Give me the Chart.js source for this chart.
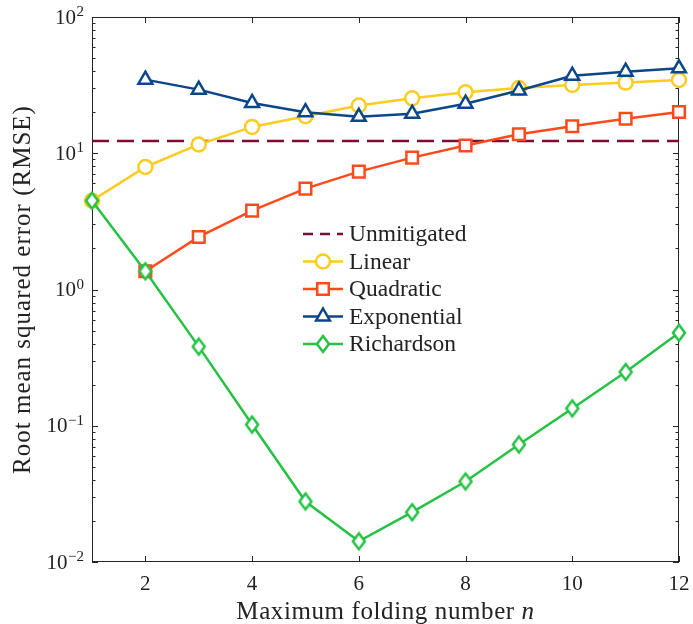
<!DOCTYPE html>
<html>
<head>
<meta charset="utf-8">
<script src="https://cdn.jsdelivr.net/npm/chart.js@4.4.0/dist/chart.umd.min.js"></script>
<style>
  html, body { margin: 0; padding: 0; background: #fff; }
  #wrap { width: 693px; height: 624px; position: relative; }
</style>
</head>
<body>
<div id="wrap"><canvas id="rmseChart"></canvas></div>
<script>
// values
const foldingNumbers = [1, 2, 3, 4, 5, 6, 7, 8, 9, 10, 11, 12];
const unmitigatedX = [1, 12];
const unmitigatedRmse = [12.3, 12.3];
const linearRmse = [4.49, 7.93, 11.6, 15.6, 18.7, 22.4, 25.3, 28.0, 30.1, 31.7, 33.0, 34.5];
const quadraticRmse = [null, 1.36, 2.43, 3.79, 5.50, 7.33, 9.29, 11.4, 13.8, 15.8, 17.9, 20.1];
const exponentialRmse = [null, 34.7, 29.3, 23.4, 20.0, 18.5, 19.5, 23.1, 28.9, 37.1, 39.7, 42.0];
const richardsonRmse = [4.49, 1.36, 0.381, 0.102, 0.0278, 0.0142, 0.0232, 0.039, 0.0728, 0.134, 0.248, 0.481];

const xTicks = [2, 4, 6, 8, 10, 12];
const yDecades = [0.01, 0.1, 1, 10, 100];
const yExponents = ['\u22122', '\u22121', '0', '1', '2'];

const FONT = '"Liberation Serif", "Times New Roman", serif';
const AXIS_COLOR = '#262626';
const colors = {
  unmitigated: '#7D0E32',
  linear: '#FDCB22',
  quadratic: '#FF4A1C',
  exponential: '#0B4689',
  richardson: '#25C244'
};

function diamondMarker(color) {
  const c = document.createElement('canvas');
  c.width = 18;
  c.height = 22;
  const g = c.getContext('2d');
  g.beginPath();
  g.moveTo(9, 3);
  g.lineTo(15, 11);
  g.lineTo(9, 19);
  g.lineTo(3, 11);
  g.closePath();
  g.fillStyle = '#fff';
  g.fill();
  g.lineWidth = 2.5;
  g.strokeStyle = color;
  g.stroke();
  return c;
}
const diamond = diamondMarker(colors.richardson);

function points(xs, ys) {
  return ys.map((v, i) => ({x: xs[i], y: v}));
}

function series(label, ys, color, pointStyle, radius, order) {
  return {
    label: label,
    data: points(foldingNumbers, ys),
    borderColor: color,
    backgroundColor: '#fff',
    borderWidth: 2.5,
    pointStyle: pointStyle,
    pointRadius: radius,
    pointBorderWidth: 2.5,
    pointBorderColor: color,
    pointBackgroundColor: '#fff',
    tension: 0,
    clip: false,
    order: order
  };
}

// legend rows, drawn inside the axes like the original
const legendItems = [
  {label: 'Unmitigated', color: colors.unmitigated, dash: [10, 7]},
  {label: 'Linear', color: colors.linear, marker: 'circle'},
  {label: 'Quadratic', color: colors.quadratic, marker: 'rect'},
  {label: 'Exponential', color: colors.exponential, marker: 'triangle'},
  {label: 'Richardson', color: colors.richardson, marker: 'diamond'}
];

function drawMarker(ctx, kind, x, y, color) {
  if (kind === 'diamond') {
    ctx.drawImage(diamond, x - 9, y - 11);
    return;
  }
  ctx.save();
  ctx.lineWidth = 2.5;
  ctx.strokeStyle = color;
  ctx.fillStyle = '#fff';
  ctx.beginPath();
  if (kind === 'circle') {
    ctx.arc(x, y, 7, 0, Math.PI * 2);
  } else if (kind === 'rect') {
    ctx.rect(x - 5.8, y - 5.8, 11.6, 11.6);
  } else if (kind === 'triangle') {
    ctx.moveTo(x, y - 8);
    ctx.lineTo(x + 6.9, y + 4);
    ctx.lineTo(x - 6.9, y + 4);
    ctx.closePath();
  }
  ctx.fill();
  ctx.stroke();
  ctx.restore();
}

const axesBox = {
  id: 'axesBox',
  beforeDatasetsDraw(chart) {
    const {ctx, chartArea: a, scales: {x, y}} = chart;
    ctx.save();
    ctx.strokeStyle = AXIS_COLOR;
    ctx.lineWidth = 1;
    ctx.beginPath();
    xTicks.forEach(v => {
      const px = Math.round(x.getPixelForValue(v)) + 0.5;
      ctx.moveTo(px, a.bottom);
      ctx.lineTo(px, a.bottom - 6);
      ctx.moveTo(px, a.top);
      ctx.lineTo(px, a.top + 6);
    });
    yDecades.forEach((d, i) => {
      const py = Math.round(y.getPixelForValue(d)) + 0.5;
      ctx.moveTo(a.left, py);
      ctx.lineTo(a.left + 6, py);
      ctx.moveTo(a.right, py);
      ctx.lineTo(a.right - 6, py);
      if (i < yDecades.length - 1) {
        for (let m = 2; m <= 9; m++) {
          const pm = Math.round(y.getPixelForValue(d * m)) + 0.5;
          ctx.moveTo(a.left, pm);
          ctx.lineTo(a.left + 3.5, pm);
          ctx.moveTo(a.right, pm);
          ctx.lineTo(a.right - 3.5, pm);
        }
      }
    });
    ctx.stroke();
    ctx.strokeRect(Math.round(a.left) + 0.5, Math.round(a.top) + 0.5,
      Math.round(a.width) - 1, Math.round(a.height) - 1);
    ctx.restore();
  },
  afterDraw(chart) {
    const {ctx, chartArea: a, scales: {x, y}} = chart;
    ctx.save();
    ctx.fillStyle = '#222';
    ctx.textBaseline = 'alphabetic';

    // x tick labels
    ctx.font = '21px ' + FONT;
    ctx.textAlign = 'center';
    xTicks.forEach(v => {
      ctx.fillText(String(v), x.getPixelForValue(v), a.bottom + 28);
    });

    // y tick labels: 10 with a raised exponent
    yDecades.forEach((d, i) => {
      const py = y.getPixelForValue(d);
      ctx.font = '15px ' + FONT;
      ctx.textAlign = 'right';
      const expW = ctx.measureText(yExponents[i]).width;
      ctx.fillText(yExponents[i], a.left - 8, py - 1);
      ctx.font = '21px ' + FONT;
      ctx.fillText('10', a.left - 8 - expW - 0.5, py + 6.5);
    });

    // axis titles, spaced out a little to match the wider original face
    ctx.letterSpacing = '0.6px';
    ctx.font = '25px ' + FONT;
    ctx.textAlign = 'left';
    const main = 'Maximum folding number ';
    const mainW = ctx.measureText(main).width;
    ctx.font = 'italic 25px ' + FONT;
    const nW = ctx.measureText('n').width;
    const startX = (a.left + a.right) / 2 - (mainW + nW) / 2;
    ctx.font = '25px ' + FONT;
    ctx.fillText(main, startX, 619);
    ctx.font = 'italic 25px ' + FONT;
    ctx.fillText('n', startX + mainW, 619);

    ctx.save();
    ctx.letterSpacing = '1px';
    ctx.translate(30, (a.top + a.bottom) / 2);
    ctx.rotate(-Math.PI / 2);
    ctx.font = '25px ' + FONT;
    ctx.textAlign = 'center';
    ctx.fillText('Root mean squared error (RMSE)', 0, 0);
    ctx.restore();
    ctx.letterSpacing = '0px';

    // legend
    legendItems.forEach((item, i) => {
      const ry = 234 + i * 27.5;
      ctx.save();
      ctx.strokeStyle = item.color;
      ctx.lineWidth = 2.5;
      if (item.dash) ctx.setLineDash(item.dash);
      ctx.beginPath();
      ctx.moveTo(303, ry);
      ctx.lineTo(343, ry);
      ctx.stroke();
      ctx.restore();
      if (item.marker) drawMarker(ctx, item.marker, 323, ry, item.color);
      ctx.font = '23.5px ' + FONT;
      ctx.textAlign = 'left';
      ctx.fillStyle = '#222';
      ctx.fillText(item.label, 349, ry + 7);
    });
    ctx.restore();
  }
};

const unmitigated = {
  label: 'Unmitigated',
  data: points(unmitigatedX, unmitigatedRmse),
  borderColor: colors.unmitigated,
  borderWidth: 2.5,
  borderDash: [17, 8],
  pointRadius: 0,
  clip: false,
  order: 5
};

new Chart(document.getElementById('rmseChart'), {
  type: 'line',
  data: {
    datasets: [
      unmitigated,
      series('Linear', linearRmse, colors.linear, 'circle', 7, 4),
      series('Quadratic', quadraticRmse, colors.quadratic, 'rect', 8.2, 3),
      series('Exponential', exponentialRmse, colors.exponential, 'triangle', 8, 2),
      series('Richardson', richardsonRmse, colors.richardson, diamond, 9, 1)
    ]
  },
  options: {
    responsive: true,
    maintainAspectRatio: false,
    animation: false,
    events: [],
    layout: {
      padding: {left: 92, right: 14, top: 17, bottom: 62}
    },
    scales: {
      x: {type: 'linear', min: 1, max: 12, display: false},
      y: {type: 'logarithmic', min: 0.01, max: 100, display: false}
    },
    plugins: {
      legend: {display: false},
      tooltip: {enabled: false}
    }
  },
  plugins: [axesBox]
});
</script>
</body>
</html>
